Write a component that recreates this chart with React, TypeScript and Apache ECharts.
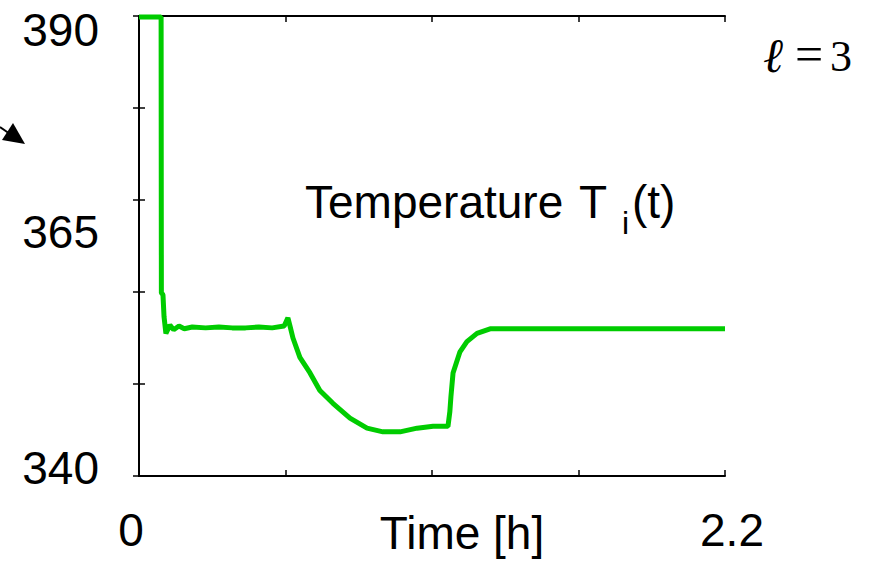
import React, { useEffect, useRef } from "react";
import * as echarts from "echarts";

// Time in hours
const timeH = [
  0, 0.083, 0.084, 0.09, 0.094, 0.101, 0.116, 0.13, 0.15, 0.17, 0.2, 0.25, 0.3, 0.35, 0.4,
  0.45, 0.5, 0.545, 0.559, 0.567, 0.578, 0.604, 0.642, 0.679, 0.728, 0.792, 0.856, 0.916,
  0.98, 1.044, 1.104, 1.16, 1.167, 1.171, 1.179, 1.205, 1.231, 1.269, 1.318, 1.419, 1.73, 2.2,
];
// Temperature T_i(t)
const tempK = [
  389.9, 389.9, 359.9, 359.7, 357.3, 355.5, 356.4, 355.9, 356.3, 356.0, 356.2, 356.1, 356.2,
  356.1, 356.1, 356.2, 356.1, 356.3, 357.2, 356.3, 355.0, 352.9, 351.2, 349.3, 347.9, 346.3,
  345.2, 344.8, 344.8, 345.2, 345.4, 345.4, 347.0, 348.6, 351.2, 353.5, 354.6, 355.5, 356.0,
  356.0, 356.0, 356.0,
];
const yTickLabels = [340, 365, 390];
const xTickLabels = [0, 2.2];
const xAxisName = "Time [h]";

const FONT = "Liberation Sans";
const SERIF = "Liberation Serif";

export default function App() {
  const ref = useRef<HTMLDivElement>(null);
  useEffect(() => {
    if (!ref.current) return;
    const chart = echarts.init(ref.current, null, { renderer: "svg" });
    const axisLine = { show: true, lineStyle: { color: "#000", width: 2 } };
    const tick = { show: true, inside: true, length: 6, lineStyle: { color: "#000", width: 1.5 } };
    chart.setOption({
      animation: false,
      backgroundColor: "#fff",
      grid: {
        left: 139,
        right: 149,
        top: 16,
        bottom: 85,
        containLabel: false,
        outerBoundsMode: "none",
      },
      xAxis: [
        {
          type: "value",
          position: "bottom",
          min: 0,
          max: 2.2,
          interval: 0.55,
          axisLine,
          axisTick: tick,
          splitLine: { show: false },
          axisLabel: {
            show: true,
            margin: 31,
            showMinLabel: true,
            showMaxLabel: true,
            formatter: (v: number) => {
              if (Math.abs(v - xTickLabels[0]) < 1e-6) return "{l|" + xTickLabels[0] + "}";
              if (Math.abs(v - xTickLabels[1]) < 1e-6) return "{r|" + xTickLabels[1] + "}";
              return "";
            },
            rich: {
              l: { fontFamily: FONT, fontSize: 46, lineHeight: 46, color: "#000", padding: [0, 16, 0, 0] },
              r: { fontFamily: FONT, fontSize: 46, lineHeight: 46, color: "#000", padding: [0, 0, 0, 14] },
            },
          },
          name: xAxisName,
          nameLocation: "middle",
          nameGap: 34,
          nameMoveOverlap: false,
          nameTextStyle: {
            fontFamily: FONT,
            fontSize: 46,
            lineHeight: 46,
            color: "#000",
            padding: [0, 0, 0, 60],
          },
        },
        {
          type: "value",
          position: "top",
          min: 0,
          max: 2.2,
          interval: 0.55,
          axisLine,
          axisTick: tick,
          splitLine: { show: false },
          axisLabel: { show: false },
        },
      ],
      yAxis: [
        {
          type: "value",
          position: "left",
          min: 340,
          max: 390,
          interval: 10,
          axisLine,
          axisTick: tick,
          splitLine: { show: false },
          axisLabel: { show: false },
        },
        {
          type: "value",
          position: "right",
          min: 340,
          max: 390,
          interval: 10,
          axisLine,
          axisTick: tick,
          splitLine: { show: false },
          axisLabel: { show: false },
        },
        {
          type: "value",
          position: "left",
          offset: 0,
          min: 340,
          max: 390,
          interval: 25,
          axisLine: { show: false },
          axisTick: { show: false },
          splitLine: { show: false },
          axisLabel: {
            show: true,
            margin: 40,
            showMinLabel: true,
            showMaxLabel: true,
            formatter: (v: number) => {
              if (v === yTickLabels[2]) return "{t|" + v + "}";
              if (v === yTickLabels[1]) return "{m|" + v + "}";
              if (v === yTickLabels[0]) return "{b|" + v + "}";
              return "";
            },
            rich: {
              t: { fontFamily: FONT, fontSize: 46, lineHeight: 46, color: "#000", padding: [28, 0, 0, 0] },
              m: { fontFamily: FONT, fontSize: 46, lineHeight: 46, color: "#000", padding: [0, 0, 28, 0] },
              b: { fontFamily: FONT, fontSize: 46, lineHeight: 46, color: "#000", padding: [0, 0, 16, 0] },
            },
          },
        },
      ],
      series: [
        {
          type: "line",
          xAxisIndex: 0,
          yAxisIndex: 0,
          data: timeH.map((t, i) => [t, tempK[i]]),
          showSymbol: false,
          symbol: "none",
          clip: false,
          lineStyle: { color: "#00cc00", width: 5 },
        },
      ],
      graphic: [
        {
          type: "text",
          left: 305,
          top: 179,
          style: { text: "Temperature", fontFamily: FONT, fontSize: 46, fill: "#000" },
        },
        {
          type: "text",
          left: 579,
          top: 179,
          style: { text: "T", fontFamily: FONT, fontSize: 46, fill: "#000" },
        },
        {
          type: "text",
          left: 622,
          top: 207,
          style: { text: "i", fontFamily: FONT, fontSize: 32, fill: "#000" },
        },
        {
          type: "text",
          left: 632,
          top: 179,
          style: { text: "(t)", fontFamily: FONT, fontSize: 46, fill: "#000" },
        },
        {
          type: "text",
          left: 763,
          top: 31,
          style: { text: "ℓ", fontFamily: SERIF, fontStyle: "italic", fontSize: 48, fill: "#000" },
        },
        {
          type: "text",
          left: 795,
          top: 29,
          style: { text: "=", fontFamily: SERIF, fontSize: 50, fill: "#000" },
        },
        {
          type: "text",
          left: 830,
          top: 34,
          style: { text: "3", fontFamily: SERIF, fontSize: 44, fill: "#000" },
        },
        {
          type: "line",
          shape: { x1: 0, y1: 127, x2: 10, y2: 134 },
          style: { stroke: "#000", lineWidth: 2 },
        },
        {
          type: "polygon",
          shape: { points: [[13, 123], [2, 140], [25, 144]] },
          style: { fill: "#000" },
        },
      ],
    });
    return () => chart.dispose();
  }, []);
  return (
    <div
      ref={ref}
      style={{ position: "fixed", left: 0, top: 0, width: 874, height: 561, background: "#fff" }}
    />
  );
}
